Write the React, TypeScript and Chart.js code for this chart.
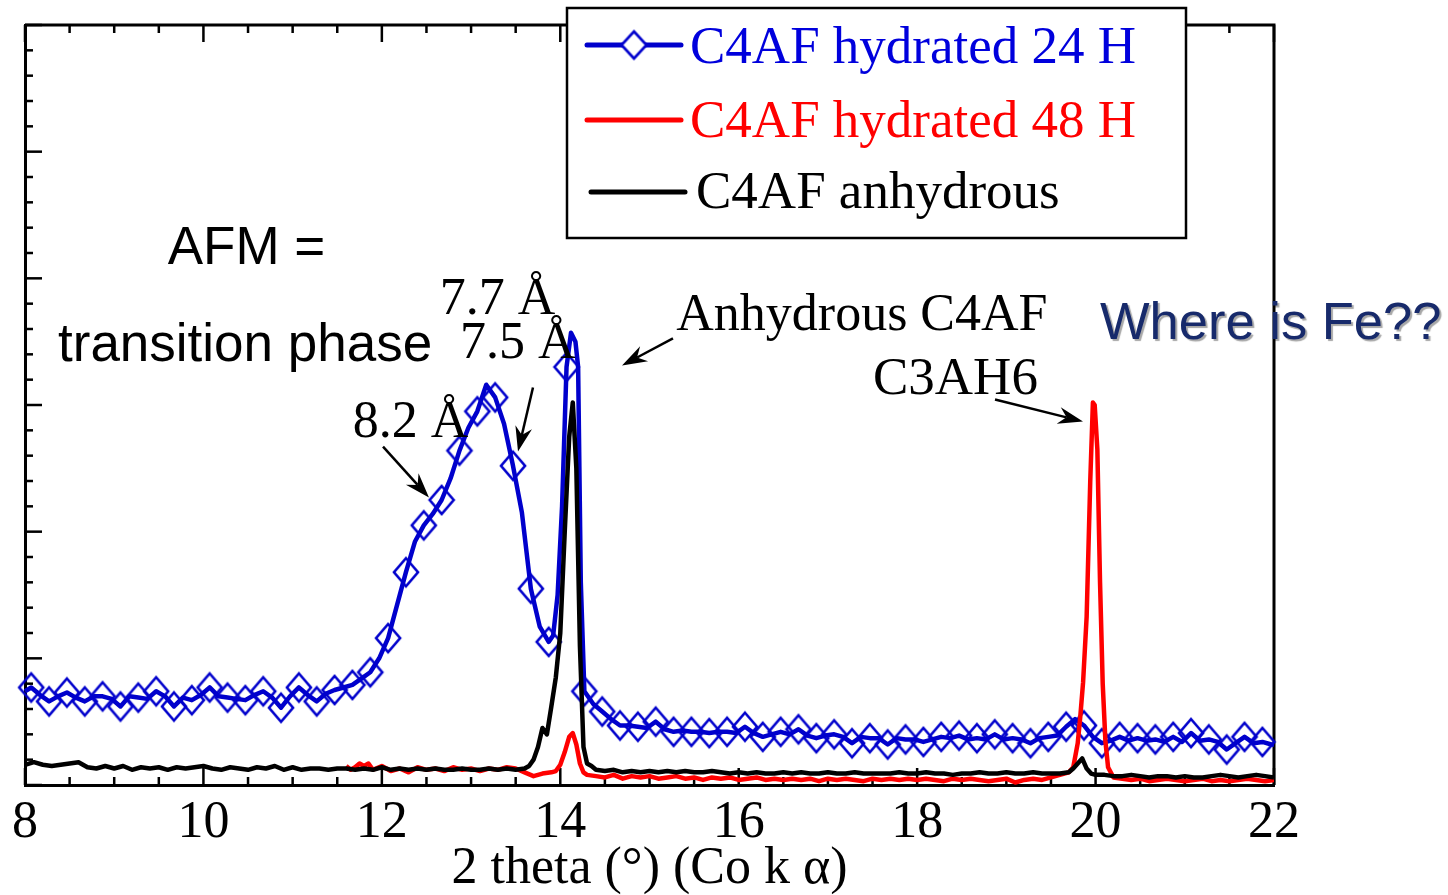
import React, { useEffect, useRef } from 'react';
import { Chart, registerables } from 'chart.js';

Chart.register(...registerables);

// ---------- axes ----------
const X_MIN = 8;
const X_MAX = 22;
const Y_MIN = 0;
const Y_MAX = 6;
const xTickValues = [8, 10, 12, 14, 16, 18, 20, 22];
const xMinorStep = 0.5;
const yMinorStep = 0.2;
const xAxisTitle = '2 theta (°) (Co k α)';

// ---------- series labels ----------
const seriesLabels = ['C4AF hydrated 24 H', 'C4AF hydrated 48 H', 'C4AF anhydrous'];

// ---------- series values [2θ, intensity (a.u.)] ----------
const hydrated24h: [number, number][] = [
  [8.00, 0.74], [8.07, 0.77], [8.17, 0.71], [8.27, 0.66], [8.37, 0.70], [8.47, 0.73], [8.57, 0.69],
  [8.67, 0.66], [8.77, 0.70], [8.87, 0.70], [8.97, 0.68], [9.07, 0.62], [9.17, 0.70], [9.27, 0.69],
  [9.37, 0.68], [9.47, 0.74], [9.57, 0.70], [9.67, 0.62], [9.77, 0.69], [9.87, 0.67], [9.97, 0.71],
  [10.07, 0.77], [10.17, 0.70], [10.27, 0.69], [10.37, 0.68], [10.47, 0.67], [10.57, 0.71], [10.67, 0.74],
  [10.77, 0.69], [10.87, 0.61], [10.97, 0.70], [11.07, 0.77], [11.17, 0.71], [11.27, 0.66], [11.37, 0.72],
  [11.47, 0.75], [11.57, 0.77], [11.67, 0.79], [11.77, 0.84], [11.87, 0.89], [11.97, 1.00], [12.07, 1.16],
  [12.17, 1.42], [12.27, 1.68], [12.37, 1.92], [12.47, 2.05], [12.57, 2.14], [12.67, 2.25], [12.77, 2.42],
  [12.87, 2.64], [12.97, 2.82], [13.07, 2.95], [13.17, 3.16], [13.27, 3.06], [13.37, 2.85], [13.47, 2.52],
  [13.57, 2.15], [13.67, 1.55], [13.77, 1.25], [13.87, 1.13], [13.92, 1.18], [13.97, 1.50], [14.02, 2.20],
  [14.07, 3.30], [14.12, 3.57], [14.17, 3.50], [14.20, 3.30], [14.23, 1.60], [14.27, 0.74], [14.37, 0.64],
  [14.47, 0.58], [14.57, 0.52], [14.67, 0.47], [14.77, 0.47], [14.87, 0.46], [14.97, 0.45], [15.07, 0.50],
  [15.17, 0.44], [15.27, 0.42], [15.37, 0.43], [15.47, 0.42], [15.57, 0.42], [15.67, 0.41], [15.77, 0.42],
  [15.87, 0.42], [15.97, 0.41], [16.07, 0.46], [16.17, 0.41], [16.27, 0.38], [16.37, 0.40], [16.47, 0.42],
  [16.57, 0.40], [16.67, 0.44], [16.77, 0.39], [16.87, 0.37], [16.97, 0.39], [17.07, 0.40], [17.17, 0.38],
  [17.27, 0.33], [17.37, 0.38], [17.47, 0.37], [17.57, 0.37], [17.67, 0.32], [17.77, 0.37], [17.87, 0.36],
  [17.97, 0.36], [18.07, 0.34], [18.17, 0.36], [18.27, 0.38], [18.37, 0.37], [18.47, 0.39], [18.57, 0.36],
  [18.67, 0.37], [18.77, 0.36], [18.87, 0.40], [18.97, 0.36], [19.07, 0.37], [19.17, 0.36], [19.27, 0.33],
  [19.37, 0.37], [19.47, 0.38], [19.57, 0.39], [19.67, 0.46], [19.77, 0.52], [19.87, 0.47], [19.97, 0.38],
  [20.07, 0.33], [20.17, 0.35], [20.27, 0.38], [20.37, 0.35], [20.47, 0.37], [20.57, 0.35], [20.67, 0.36],
  [20.77, 0.34], [20.87, 0.38], [20.97, 0.34], [21.07, 0.41], [21.17, 0.35], [21.27, 0.36], [21.37, 0.34],
  [21.47, 0.28], [21.57, 0.33], [21.67, 0.38], [21.77, 0.33], [21.87, 0.34], [21.97, 0.32], [22.00, 0.32],
];

const hydrated48h: [number, number][] = [
  [11.60, 0.15], [11.65, 0.12], [11.70, 0.14], [11.75, 0.17], [11.80, 0.15], [11.85, 0.17], [11.90, 0.12],
  [12.00, 0.15], [12.10, 0.11], [12.20, 0.13], [12.30, 0.10], [12.40, 0.14], [12.50, 0.12], [12.60, 0.13],
  [12.70, 0.11], [12.80, 0.14], [12.90, 0.12], [13.00, 0.13], [13.10, 0.11], [13.20, 0.13], [13.30, 0.12],
  [13.40, 0.14], [13.50, 0.13], [13.60, 0.10], [13.70, 0.07], [13.80, 0.09], [13.90, 0.10], [13.95, 0.11],
  [14.00, 0.16], [14.05, 0.26], [14.10, 0.38], [14.14, 0.41], [14.18, 0.32], [14.22, 0.17], [14.26, 0.10],
  [14.30, 0.08], [14.40, 0.07], [14.50, 0.06], [14.60, 0.08], [14.70, 0.05], [14.80, 0.07], [14.90, 0.06],
  [15.00, 0.07], [15.10, 0.05], [15.20, 0.06], [15.30, 0.07], [15.40, 0.05], [15.50, 0.06], [15.60, 0.04],
  [15.70, 0.06], [15.80, 0.05], [15.90, 0.06], [16.00, 0.04], [16.10, 0.05], [16.20, 0.06], [16.30, 0.04],
  [16.40, 0.05], [16.50, 0.04], [16.60, 0.05], [16.70, 0.04], [16.80, 0.05], [16.90, 0.03], [17.00, 0.05],
  [17.10, 0.04], [17.20, 0.05], [17.30, 0.04], [17.40, 0.03], [17.50, 0.05], [17.60, 0.04], [17.70, 0.05],
  [17.80, 0.04], [17.90, 0.05], [18.00, 0.04], [18.10, 0.05], [18.20, 0.04], [18.30, 0.03], [18.40, 0.05],
  [18.50, 0.04], [18.60, 0.05], [18.70, 0.04], [18.80, 0.03], [18.90, 0.04], [19.00, 0.05], [19.10, 0.02],
  [19.20, 0.04], [19.30, 0.05], [19.40, 0.04], [19.50, 0.06], [19.60, 0.08], [19.70, 0.10], [19.75, 0.14],
  [19.80, 0.33], [19.83, 0.55], [19.86, 0.81], [19.90, 1.33], [19.94, 2.39], [19.97, 3.02], [19.99, 3.00],
  [20.02, 2.65], [20.05, 1.60], [20.08, 0.80], [20.11, 0.35], [20.14, 0.14], [20.20, 0.06], [20.30, 0.05],
  [20.40, 0.04], [20.50, 0.05], [20.60, 0.03], [20.70, 0.04], [20.80, 0.05], [20.90, 0.04], [21.00, 0.03],
  [21.10, 0.04], [21.20, 0.05], [21.30, 0.03], [21.40, 0.04], [21.50, 0.03], [21.60, 0.04], [21.70, 0.05],
  [21.80, 0.04], [21.90, 0.03], [22.00, 0.04],
];

const anhydrous: [number, number][] = [
  [8.00, 0.16], [8.10, 0.18], [8.20, 0.16], [8.30, 0.15], [8.40, 0.16], [8.50, 0.17], [8.60, 0.18],
  [8.70, 0.14], [8.80, 0.13], [8.90, 0.15], [9.00, 0.13], [9.10, 0.15], [9.20, 0.12], [9.30, 0.14],
  [9.40, 0.13], [9.50, 0.14], [9.60, 0.12], [9.70, 0.14], [9.80, 0.13], [9.90, 0.14], [10.00, 0.15],
  [10.10, 0.13], [10.20, 0.12], [10.30, 0.14], [10.40, 0.13], [10.50, 0.12], [10.60, 0.14], [10.70, 0.13],
  [10.80, 0.15], [10.90, 0.12], [11.00, 0.14], [11.10, 0.12], [11.20, 0.13], [11.30, 0.13], [11.40, 0.12],
  [11.50, 0.13], [11.60, 0.13], [11.70, 0.12], [11.80, 0.13], [11.90, 0.12], [12.00, 0.14], [12.10, 0.12],
  [12.20, 0.13], [12.30, 0.12], [12.40, 0.13], [12.50, 0.12], [12.60, 0.13], [12.70, 0.12], [12.80, 0.12],
  [12.90, 0.13], [13.00, 0.12], [13.10, 0.12], [13.20, 0.13], [13.30, 0.12], [13.40, 0.13], [13.50, 0.12],
  [13.60, 0.13], [13.65, 0.15], [13.70, 0.20], [13.75, 0.30], [13.80, 0.45], [13.85, 0.40], [13.90, 0.62],
  [13.95, 0.85], [14.00, 1.20], [14.05, 2.00], [14.10, 2.75], [14.14, 3.02], [14.18, 2.50], [14.22, 1.10],
  [14.26, 0.30], [14.30, 0.17], [14.35, 0.15], [14.40, 0.12], [14.50, 0.11], [14.60, 0.12], [14.70, 0.10],
  [14.80, 0.11], [14.90, 0.10], [15.00, 0.11], [15.10, 0.10], [15.20, 0.11], [15.30, 0.10], [15.40, 0.11],
  [15.50, 0.10], [15.60, 0.10], [15.70, 0.11], [15.80, 0.10], [15.90, 0.09], [16.00, 0.10], [16.10, 0.09],
  [16.20, 0.10], [16.30, 0.09], [16.40, 0.09], [16.50, 0.10], [16.60, 0.09], [16.70, 0.10], [16.80, 0.09],
  [16.90, 0.09], [17.00, 0.10], [17.10, 0.09], [17.20, 0.09], [17.30, 0.10], [17.40, 0.09], [17.50, 0.09],
  [17.60, 0.09], [17.70, 0.09], [17.80, 0.10], [17.90, 0.09], [18.00, 0.09], [18.10, 0.10], [18.20, 0.09],
  [18.30, 0.09], [18.40, 0.08], [18.50, 0.09], [18.60, 0.09], [18.70, 0.10], [18.80, 0.09], [18.90, 0.09],
  [19.00, 0.10], [19.10, 0.09], [19.20, 0.09], [19.30, 0.10], [19.40, 0.09], [19.50, 0.09], [19.60, 0.09],
  [19.70, 0.10], [19.75, 0.13], [19.80, 0.17], [19.85, 0.21], [19.90, 0.13], [19.95, 0.09], [20.00, 0.08],
  [20.10, 0.08], [20.20, 0.07], [20.30, 0.07], [20.40, 0.08], [20.50, 0.07], [20.60, 0.06], [20.70, 0.07],
  [20.80, 0.07], [20.90, 0.06], [21.00, 0.07], [21.10, 0.06], [21.20, 0.06], [21.30, 0.07], [21.40, 0.08],
  [21.50, 0.07], [21.60, 0.06], [21.70, 0.07], [21.80, 0.08], [21.90, 0.07], [22.00, 0.06],
];

// marker every 0.2 in 2θ starting at this position (24 H series)
const markerStart = 8.07;
const markerStep = 0.2;

// ---------- annotations (data coordinates: left/baseline of text) ----------
const SERIF = '"Liberation Serif", "Times New Roman", serif';
const SANS = '"Liberation Sans", Arial, sans-serif';
const textNotes = [
  { text: 'AFM =', x: 9.60, y: 4.11, font: `53px ${SANS}`, color: '#000000', shadow: false },
  { text: 'transition phase', x: 8.37, y: 3.35, font: `53px ${SANS}`, color: '#000000', shadow: false },
  { text: '7.7 Å', x: 12.65, y: 3.715, font: `52px ${SERIF}`, color: '#000000', shadow: false },
  { text: '7.5 Å', x: 12.875, y: 3.375, font: `52px ${SERIF}`, color: '#000000', shadow: false },
  { text: '8.2 Å', x: 11.675, y: 2.745, font: `52px ${SERIF}`, color: '#000000', shadow: false },
  { text: 'Anhydrous C4AF', x: 15.30, y: 3.595, font: `52px ${SERIF}`, color: '#000000', shadow: false },
  { text: 'C3AH6', x: 17.505, y: 3.085, font: `53px ${SERIF}`, color: '#000000', shadow: false },
  { text: 'Where is Fe??', x: 20.05, y: 3.52, font: `52.5px ${SANS}`, color: '#172a6b', shadow: true },
];
const arrowNotes = [
  { from: [12.013, 2.672], to: [12.528, 2.269] },
  { from: [13.694, 3.138], to: [13.526, 2.632] },
  { from: [15.263, 3.526], to: [14.692, 3.312] },
  { from: [18.873, 3.043], to: [19.859, 2.870] },
];

const BLUE = '#0000cc';
const RED = '#ff0000';
const BLACK = '#000000';

function makeDiamond(w: number, h: number, color: string, lw: number, fill: string | null) {
  const c = document.createElement('canvas');
  c.width = Math.ceil(w + 2 * lw + 2);
  c.height = Math.ceil(h + 2 * lw + 2);
  const g = c.getContext('2d')!;
  const cx = c.width / 2;
  const cy = c.height / 2;
  g.beginPath();
  g.moveTo(cx, cy - h / 2);
  g.lineTo(cx + w / 2, cy);
  g.lineTo(cx, cy + h / 2);
  g.lineTo(cx - w / 2, cy);
  g.closePath();
  if (fill) {
    g.fillStyle = fill;
    g.fill();
  }
  g.strokeStyle = color;
  g.lineWidth = lw;
  g.lineJoin = 'miter';
  g.stroke();
  return c;
}

function drawArrow(ctx: CanvasRenderingContext2D, x1: number, y1: number, x2: number, y2: number) {
  const ang = Math.atan2(y2 - y1, x2 - x1);
  const L = 25;
  const W = 8.5;
  const N = 17;
  const cx = Math.cos(ang);
  const sy = Math.sin(ang);
  const nx = x2 - cx * N;
  const ny = y2 - sy * N;
  ctx.beginPath();
  ctx.moveTo(x1, y1);
  ctx.lineTo(nx, ny);
  ctx.lineWidth = 2.5;
  ctx.stroke();
  const bx = x2 - cx * L;
  const by = y2 - sy * L;
  const px = -sy;
  const py = cx;
  ctx.beginPath();
  ctx.moveTo(x2, y2);
  ctx.lineTo(bx + px * W, by + py * W);
  ctx.lineTo(nx, ny);
  ctx.lineTo(bx - px * W, by - py * W);
  ctx.closePath();
  ctx.fill();
}

export default function App() {
  const canvasRef = useRef<HTMLCanvasElement | null>(null);

  useEffect(() => {
    const canvas = canvasRef.current;
    if (!canvas) return;

    const plotDiamond = makeDiamond(24, 28, BLUE, 2.6, null);
    const legendDiamond = makeDiamond(25, 27, BLUE, 2.6, '#ffffff');

    const isMarker = (x: number) => {
      const k = (x - markerStart) / markerStep;
      return Math.abs(k - Math.round(k)) < 0.02;
    };

    const decorations = {
      id: 'decorations',
      beforeDatasetsDraw(chart: any) {
        const { ctx, chartArea: a, scales } = chart;
        const xs = scales.x;
        const ys = scales.y;
        ctx.save();
        ctx.strokeStyle = '#000';
        ctx.lineCap = 'butt';
        // top + right frame
        ctx.lineWidth = 3;
        ctx.beginPath();
        ctx.moveTo(a.left, a.top);
        ctx.lineTo(a.right, a.top);
        ctx.lineTo(a.right, a.bottom);
        ctx.stroke();
        // x ticks (bottom and top, inward)
        ctx.lineWidth = 2.5;
        const nx = Math.round((X_MAX - X_MIN) / xMinorStep);
        for (let i = 0; i <= nx; i++) {
          const v = X_MIN + i * xMinorStep;
          const px = xs.getPixelForValue(v);
          const major = xTickValues.includes(v);
          const len = major ? 17 : 8;
          ctx.beginPath();
          ctx.moveTo(px, a.bottom);
          ctx.lineTo(px, a.bottom - len);
          ctx.moveTo(px, a.top);
          ctx.lineTo(px, a.top + len);
          ctx.stroke();
        }
        // y ticks (left, inward)
        const ny = Math.round((Y_MAX - Y_MIN) / yMinorStep);
        for (let j = 0; j <= ny; j++) {
          const v = Y_MIN + j * yMinorStep;
          const py = ys.getPixelForValue(v);
          const len = j % 5 === 0 ? 17 : 8;
          ctx.beginPath();
          ctx.moveTo(a.left, py);
          ctx.lineTo(a.left + len, py);
          ctx.stroke();
        }
        ctx.restore();
      },
      afterDraw(chart: any) {
        const { ctx, scales } = chart;
        const xs = scales.x;
        const ys = scales.y;
        ctx.save();
        // arrows
        ctx.strokeStyle = '#000';
        ctx.fillStyle = '#000';
        ctx.lineCap = 'butt';
        for (const a of arrowNotes) {
          drawArrow(
            ctx,
            xs.getPixelForValue(a.from[0]), ys.getPixelForValue(a.from[1]),
            xs.getPixelForValue(a.to[0]), ys.getPixelForValue(a.to[1]),
          );
        }
        // texts
        ctx.textAlign = 'left';
        ctx.textBaseline = 'alphabetic';
        for (const t of textNotes) {
          ctx.save();
          ctx.font = t.font;
          ctx.fillStyle = t.color;
          if (t.shadow) {
            ctx.shadowColor = 'rgba(0,0,0,0.35)';
            ctx.shadowOffsetX = 2;
            ctx.shadowOffsetY = 2;
            ctx.shadowBlur = 1;
          }
          ctx.fillText(t.text, xs.getPixelForValue(t.x), ys.getPixelForValue(t.y));
          ctx.restore();
        }
        // legend box
        const box = { x: 567, y: 8, w: 619, h: 230 };
        ctx.fillStyle = '#ffffff';
        ctx.fillRect(box.x, box.y, box.w, box.h);
        ctx.strokeStyle = '#000';
        ctx.lineWidth = 2.5;
        ctx.strokeRect(box.x, box.y, box.w, box.h);
        const rows = [
          { ly: 45, lx1: 587, lx2: 681, tx: 690, ty: 63, textColor: '#0000dd', marker: true },
          { ly: 120, lx1: 587, lx2: 681, tx: 690, ty: 137, textColor: '#ff0000', marker: false },
          { ly: 192, lx1: 591, lx2: 685, tx: 696, ty: 208, textColor: '#000000', marker: false },
        ];
        const dsets = chart.data.datasets;
        const legendOrder = [0, 1, 2];
        legendOrder.forEach((di, r) => {
          const ds = dsets[di];
          const row = rows[r];
          ctx.strokeStyle = ds.borderColor;
          ctx.lineWidth = 5;
          ctx.lineCap = 'round';
          ctx.beginPath();
          ctx.moveTo(row.lx1, row.ly);
          ctx.lineTo(row.lx2, row.ly);
          ctx.stroke();
          if (row.marker) {
            ctx.drawImage(
              legendDiamond,
              (row.lx1 + row.lx2) / 2 - legendDiamond.width / 2,
              row.ly - legendDiamond.height / 2,
            );
          }
          ctx.font = `53px ${SERIF}`;
          ctx.fillStyle = row.textColor;
          ctx.fillText(ds.label, row.tx, row.ty);
        });
        ctx.restore();
      },
    };

    const chart = new Chart(canvas, {
      type: 'line',
      data: {
        datasets: [
          {
            label: seriesLabels[0],
            data: hydrated24h.map(([x, y]) => ({ x, y })),
            borderColor: BLUE,
            borderWidth: 4.5,
            pointStyle: plotDiamond as any,
            pointRadius: (c: any) => (c.raw && isMarker(c.raw.x) ? 12 : 0),
            pointHoverRadius: 0,
            tension: 0,
            borderJoinStyle: 'round',
            order: 2,
            clip: false as any,
          },
          {
            label: seriesLabels[1],
            data: hydrated48h.map(([x, y]) => ({ x, y })),
            borderColor: RED,
            borderWidth: 4.5,
            pointRadius: 0,
            pointHoverRadius: 0,
            tension: 0,
            borderJoinStyle: 'round',
            order: 1,
          },
          {
            label: seriesLabels[2],
            data: anhydrous.map(([x, y]) => ({ x, y })),
            borderColor: BLACK,
            borderWidth: 4.5,
            pointRadius: 0,
            pointHoverRadius: 0,
            tension: 0,
            borderJoinStyle: 'round',
            order: 0,
          },
        ],
      },
      options: {
        animation: false,
        responsive: false,
        events: [],
        layout: { padding: { left: 25, right: 174, top: 25, bottom: 0 } },
        plugins: {
          legend: { display: false },
          tooltip: { enabled: false },
        },
        scales: {
          x: {
            type: 'linear',
            min: X_MIN,
            max: X_MAX,
            afterBuildTicks: (s: any) => {
              s.ticks = xTickValues.map((v) => ({ value: v }));
            },
            ticks: {
              font: { family: 'Liberation Serif', size: 52, lineHeight: 1.2 },
              color: '#000',
              padding: 7,
              maxRotation: 0,
              autoSkip: false,
              callback: (v: any) => String(v),
            },
            grid: { display: false, drawTicks: false },
            border: { display: true, color: '#000', width: 3 },
            title: {
              display: true,
              text: xAxisTitle,
              color: '#000',
              font: { family: 'Liberation Serif', size: 52, lineHeight: 1 },
              padding: { top: 0, bottom: 0 },
            },
            afterFit: (s: any) => {
              s.height = 110;
            },
          },
          y: {
            type: 'linear',
            min: Y_MIN,
            max: Y_MAX,
            ticks: { display: false },
            grid: { display: false, drawTicks: false },
            border: { display: true, color: '#000', width: 3 },
            afterFit: (s: any) => {
              s.width = 0;
            },
          },
        },
      } as any,
      plugins: [decorations],
    });

    return () => {
      chart.destroy();
    };
  }, []);

  return (
    <div style={{ position: 'fixed', left: 0, top: 0, width: 1448, height: 895, background: '#fff' }}>
      <canvas ref={canvasRef} width={1448} height={895} style={{ display: 'block', width: 1448, height: 895 }} />
    </div>
  );
}
